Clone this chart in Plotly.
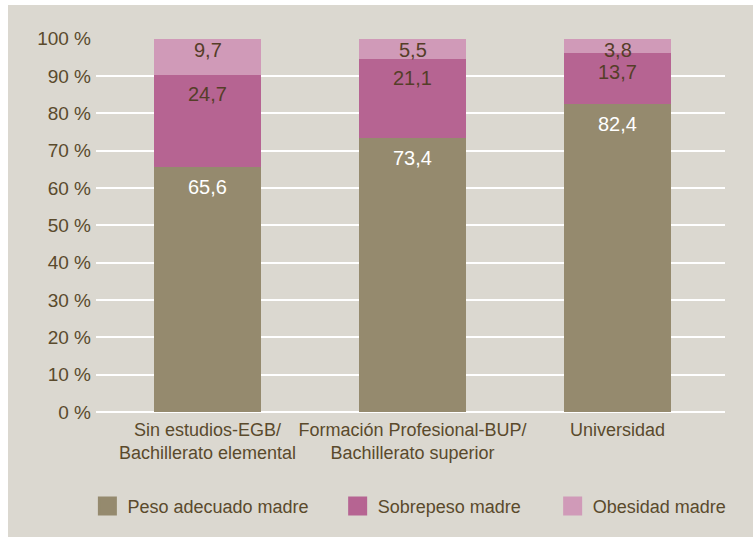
import plotly.graph_objects as go

# ---- data ----
categories = ["Sin estudios-EGB/<br>Bachillerato elemental",
              "Formación Profesional-BUP/<br>Bachillerato superior",
              "Universidad"]
peso_adecuado = [65.6, 73.4, 82.4]
sobrepeso = [24.7, 21.1, 13.7]
obesidad = [9.7, 5.5, 3.8]
series_names = ["Peso adecuado madre", "Sobrepeso madre", "Obesidad madre"]
y_tick_values = [0, 10, 20, 30, 40, 50, 60, 70, 80, 90, 100]

# ---- style ----
colors = ["#958a6e", "#b66492", "#d09ab8"]
label_colors = ["#ffffff", "#553e28", "#553e28"]
label_shift = [-20, -19, -11]
text_color = "#5a4a2c"
bg = "#dbd8d0"
FONT = "Liberation Sans"

series = [peso_adecuado, sobrepeso, obesidad]
xs = list(range(len(categories)))

fig = go.Figure()
for name, vals, col in zip(series_names, series, colors):
    fig.add_trace(go.Bar(x=xs, y=vals, name=name, marker=dict(color=col, line=dict(width=0)),
                         width=0.522, showlegend=False, hoverinfo="skip"))

# legend entries (one legend per entry, to space them like the original)
legend_ids = ["legend", "legend2", "legend3"]
for name, col, lid in zip(series_names, colors, legend_ids):
    fig.add_trace(go.Scatter(x=[None], y=[None], mode="markers", name=name,
                             marker=dict(symbol="square", size=16, color=col,
                                         line=dict(color=col, width=3)),
                             showlegend=True, legend=lid))

# value labels
annotations = []
cum = [0.0] * len(categories)
for vals, lc, sh in zip(series, label_colors, label_shift):
    for j, v in enumerate(vals):
        cum[j] += v
        annotations.append(dict(x=xs[j], y=cum[j], xref="x", yref="y",
                                text=f"{v:.1f}".replace(".", ","), showarrow=False,
                                yanchor="middle", yshift=sh,
                                font=dict(family=FONT, size=20, color=lc)))

legend_x = [-0.0137, 0.3842, 0.7260]
legends = {}
for lid, lx in zip(legend_ids, legend_x):
    legends[lid] = dict(x=lx, y=-0.252, xanchor="left", yanchor="middle",
                        orientation="h", bgcolor="rgba(0,0,0,0)", borderwidth=0,
                        font=dict(family=FONT, size=18, color=text_color),
                        itemclick=False, itemdoubleclick=False)

fig.update_layout(
    width=753, height=539,
    margin=dict(l=96, r=28, t=38, b=127),
    paper_bgcolor="#ffffff",
    plot_bgcolor="rgba(0,0,0,0)",
    barmode="stack",
    font=dict(family=FONT, size=18, color=text_color),
    annotations=annotations,
    shapes=[dict(type="rect", xref="paper", yref="paper",
                 x0=-0.1399, x1=1.05, y0=-0.334, y1=1.0882,
                 fillcolor=bg, line=dict(width=0), layer="below")],
    xaxis=dict(range=[-0.544, 2.524], tickmode="array", tickvals=xs, ticktext=categories,
               showgrid=False, zeroline=False, showline=False, ticks="",
               ticklabelstandoff=5,
               tickfont=dict(family=FONT, size=18, color=text_color), fixedrange=True),
    yaxis=dict(range=[0, 100.2], tickmode="array", tickvals=y_tick_values,
               ticktext=[f"{v} %" for v in y_tick_values],
               showgrid=True, gridcolor="#ffffff", gridwidth=2,
               zeroline=True, zerolinecolor="#ffffff", zerolinewidth=2,
               showline=False, ticks="", ticklabelstandoff=4,
               tickfont=dict(family=FONT, size=19, color=text_color), fixedrange=True),
    **legends,
)

fig.write_html("out.html", config={"displayModeBar": False},
               post_script="document.body.style.margin='0';")
